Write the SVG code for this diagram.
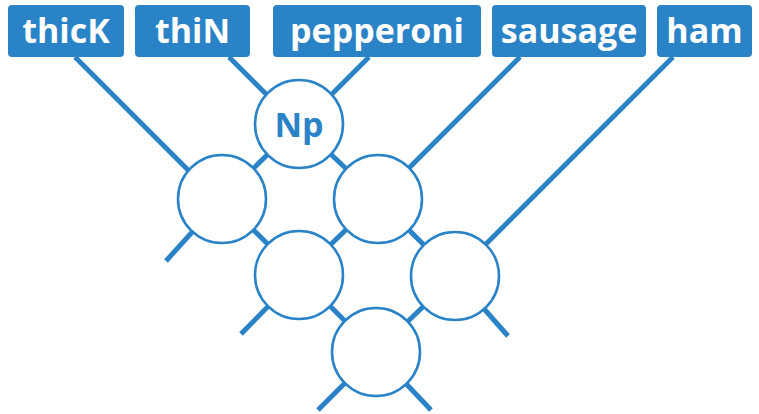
<svg xmlns="http://www.w3.org/2000/svg" width="759" height="414" viewBox="0 0 759 414">
<style>
.box{fill:#2a83c7}
.lbl{fill:#fff;font-family:"Open Sans","Noto Sans",sans-serif;font-weight:bold;font-size:34px;text-anchor:middle}
.w{stroke:#2a83c7;stroke-width:5;fill:none}
.c{fill:#fff;stroke:#2a83c7;stroke-width:2.6}
.np{fill:#2a83c7;font-family:"Open Sans","Noto Sans",sans-serif;font-weight:bold;font-size:34px;text-anchor:middle}
</style>
<g id="connectors">
<line class="w" x1="75" y1="57" x2="222" y2="204"/>
<line class="w" x1="229" y1="57" x2="299" y2="127"/>
<line class="w" x1="369" y1="57" x2="299" y2="127"/>
<line class="w" x1="520" y1="57" x2="378" y2="199"/>
<line class="w" x1="673" y1="57" x2="455" y2="275"/>
<line class="w" x1="299" y1="124" x2="222" y2="199"/>
<line class="w" x1="299" y1="124" x2="378" y2="199"/>
<line class="w" x1="222" y1="199" x2="299" y2="275"/>
<line class="w" x1="378" y1="199" x2="299" y2="275"/>
<line class="w" x1="378" y1="199" x2="455" y2="276"/>
<line class="w" x1="299" y1="275" x2="376" y2="352"/>
<line class="w" x1="455" y1="276" x2="376" y2="352"/>
<line class="w" x1="222" y1="199" x2="166" y2="261"/>
<line class="w" x1="299" y1="275" x2="241" y2="334"/>
<line class="w" x1="376" y1="352" x2="318" y2="410"/>
<line class="w" x1="376" y1="352" x2="431" y2="410"/>
<line class="w" x1="455" y1="276" x2="508" y2="336"/>
</g>
<g id="thicK"><rect class="box" x="8" y="5" width="116" height="52" rx="4"/><text class="lbl" x="66" y="43">thicK</text></g>
<g id="thiN"><rect class="box" x="135" y="5" width="115" height="52" rx="4"/><text class="lbl" x="192.5" y="43">thiN</text></g>
<g id="pepperoni"><rect class="box" x="273" y="5" width="208" height="52" rx="4"/><text class="lbl" x="377" y="43">pepperoni</text></g>
<g id="sausage"><rect class="box" x="492" y="5" width="154" height="52" rx="4"/><text class="lbl" x="569" y="43">sausage</text></g>
<g id="ham"><rect class="box" x="657" y="5" width="95" height="52" rx="4"/><text class="lbl" x="704.5" y="43">ham</text></g>
<g id="np"><circle class="c" cx="299" cy="124" r="44"/><text class="np" x="299" y="137">Np</text></g>
<g id="n1"><circle class="c" cx="222" cy="199" r="44"/></g>
<g id="n2"><circle class="c" cx="378" cy="199" r="44"/></g>
<g id="n3"><circle class="c" cx="299" cy="275" r="44"/></g>
<g id="n4"><circle class="c" cx="455" cy="276" r="44"/></g>
<g id="n5"><circle class="c" cx="376" cy="352" r="44"/></g>
</svg>
